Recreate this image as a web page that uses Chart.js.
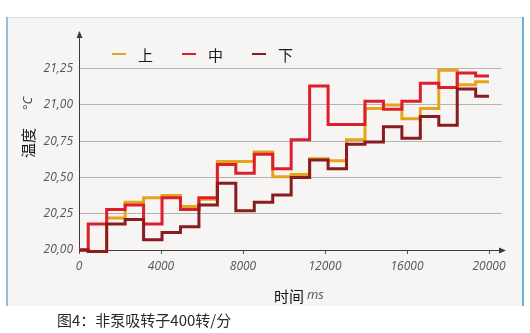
<!DOCTYPE html>
<html><head><meta charset="utf-8">
<script src="https://cdn.jsdelivr.net/npm/chart.js@4/dist/chart.umd.min.js"></script>
<style>html,body{margin:0;padding:0;background:#fff;}#wrap{position:relative;width:530px;height:333px;}</style>
</head><body><div id="wrap"><canvas id="c" width="530" height="333"></canvas></div>
<script>
// step start times (ms); last entry is the end of the final step
const times = [0,450,1350,2250,3150,4050,4950,5850,6750,7650,8550,9450,10350,11250,12150,13050,13950,14850,15750,16650,17550,18450,19350,20000];
const seriesNames = ['上','中','下'];
const upper  = [20.00,19.99,20.22,20.33,20.36,20.375,20.30,20.35,20.61,20.61,20.675,20.505,20.52,20.63,20.615,20.76,20.975,21.00,20.905,20.975,21.24,21.14,21.16];
const middle = [20.00,20.18,20.28,20.31,20.18,20.36,20.28,20.36,20.59,20.53,20.66,20.56,20.76,21.13,20.865,20.865,21.025,20.97,21.025,21.15,21.12,21.22,21.20];
const lower  = [20.00,19.99,20.18,20.21,20.07,20.12,20.16,20.31,20.46,20.27,20.33,20.38,20.50,20.62,20.56,20.73,20.745,20.85,20.77,20.92,20.86,21.11,21.06];
const xTicks = [0,4000,8000,12000,16000,20000];
const yTicks = [20.00,20.25,20.50,20.75,21.00,21.25];
const yTickLabels = ['20,00','20,25','20,50','20,75','21,00','21,25'];
const colors = ['#e6a41a','#dc1f2d','#8a1b1e'];

function toPoints(vals){
  return times.map((t,i)=>({x:t, y: i < vals.length ? vals[i] : vals[vals.length-1]}));
}

const decor = {
  id:'decor',
  beforeDraw(chart){
    const c = chart.ctx;
    c.save();
    c.fillStyle='#ffffff'; c.fillRect(0,0,530,333);
    c.fillStyle='#f6f5f4'; c.fillRect(7,17,516,289);
    c.strokeStyle='#d5e3ec'; c.lineWidth=1;
    c.beginPath(); c.moveTo(7,17.5); c.lineTo(523,17.5); c.stroke();
    c.strokeStyle='#8cc3e0'; c.lineWidth=2;
    c.beginPath(); c.moveTo(7,17); c.lineTo(7,306); c.stroke();
    c.strokeStyle='#6aafd8';
    c.beginPath(); c.moveTo(523,17); c.lineTo(523,306); c.stroke();
    c.restore();
  },
  beforeDatasetsDraw(chart){
    const c = chart.ctx;
    const x0 = chart.scales.x.getPixelForValue(0);
    const y0 = chart.scales.y.getPixelForValue(20);
    c.save();
    c.strokeStyle='#3a3a3a'; c.fillStyle='#3a3a3a'; c.lineWidth=1;
    c.beginPath(); c.moveTo(x0+0.5,y0); c.lineTo(x0+0.5,36); c.stroke();
    c.beginPath(); c.moveTo(x0+0.5,31); c.lineTo(x0-2.5,38); c.lineTo(x0+3.5,38); c.closePath(); c.fill();
    c.beginPath(); c.moveTo(x0,y0+0.5); c.lineTo(500,y0+0.5); c.stroke();
    c.beginPath(); c.moveTo(506,y0+0.5); c.lineTo(499,y0-2.5); c.lineTo(499,y0+3.5); c.closePath(); c.fill();
    c.restore();
  },
  afterDraw(chart){
    const c = chart.ctx;
    c.save();
    // legend
    const lx = [112,182,252];
    c.font = '15px "Noto Sans CJK SC"';
    c.textBaseline='middle'; c.textAlign='left';
    chart.data.datasets.forEach((ds,i)=>{
      c.strokeStyle = ds.borderColor; c.lineWidth=2;
      c.beginPath(); c.moveTo(lx[i],54); c.lineTo(lx[i]+14,54); c.stroke();
      c.fillStyle='#1a1a1a';
      c.fillText(ds.label, lx[i]+26, 55);
    });
    // x title
    c.font = '15px "Noto Sans CJK SC"'; c.fillStyle='#111';
    c.fillText('时间', 274, 296);
    c.font = 'italic 13px "Open Sans"'; c.fillStyle='#555';
    c.fillText('ms', 307, 295);
    // y title
    c.save();
    c.translate(28,158); c.rotate(-Math.PI/2);
    c.font = '15px "Noto Sans CJK SC"'; c.fillStyle='#1a1a1a'; c.textBaseline='middle';
    c.fillText('温度', 0, 0);
    c.font = 'italic 13px "Open Sans"'; c.fillStyle='#444';
    c.fillText('°C', 48, 0);
    c.restore();
    // caption
    c.font = '15px "Noto Sans CJK SC"'; c.fillStyle='#2a2a2a'; c.textBaseline='middle';
    c.fillText('图4：非泵吸转子400转/分', 57, 320);
    c.restore();
  }
};

new Chart(document.getElementById('c'), {
  type:'line',
  data:{
    datasets:[
      {label:seriesNames[0], data:toPoints(upper), borderColor:colors[0], order:2},
      {label:seriesNames[1], data:toPoints(middle), borderColor:colors[1], order:1},
      {label:seriesNames[2], data:toPoints(lower), borderColor:colors[2], order:0}
    ].map(d=>Object.assign(d,{stepped:'before', borderWidth:3, pointRadius:0, fill:false, clip:false, borderJoinStyle:'miter', borderCapStyle:'butt'}))
  },
  options:{
    responsive:false, animation:false, devicePixelRatio:1,
    layout:{padding:{left:0,top:40,right:28,bottom:0}},
    plugins:{legend:{display:false}, tooltip:{enabled:false}},
    scales:{
      x:{type:'linear', min:0, max:20634,
        afterFit(s){ s.height = 83; },
        afterBuildTicks(s){ s.ticks = xTicks.map(v=>({value:v})); },
        grid:{drawOnChartArea:false, drawTicks:true, tickLength:4, color:'#555'},
        border:{display:false},
        ticks:{padding:5, color:'#555', font:{family:'"Open Sans"', style:'italic', size:12}, maxRotation:0, autoSkip:false,
          callback:(v)=>String(v)}
      },
      y:{type:'linear', min:20.0, max:21.448,
        afterFit(s){ s.width = 79; },
        afterBuildTicks(s){ s.ticks = yTicks.map(v=>({value:v})); },
        grid:{drawTicks:false, color:'#b4b4b4', lineWidth:1},
        border:{display:false},
        ticks:{padding:6, color:'#555', font:{family:'"Open Sans"', style:'italic', size:12}, autoSkip:false,
          callback:(v,i)=>yTickLabels[i]}
      }
    }
  },
  plugins:[decor]
});
</script></body></html>
